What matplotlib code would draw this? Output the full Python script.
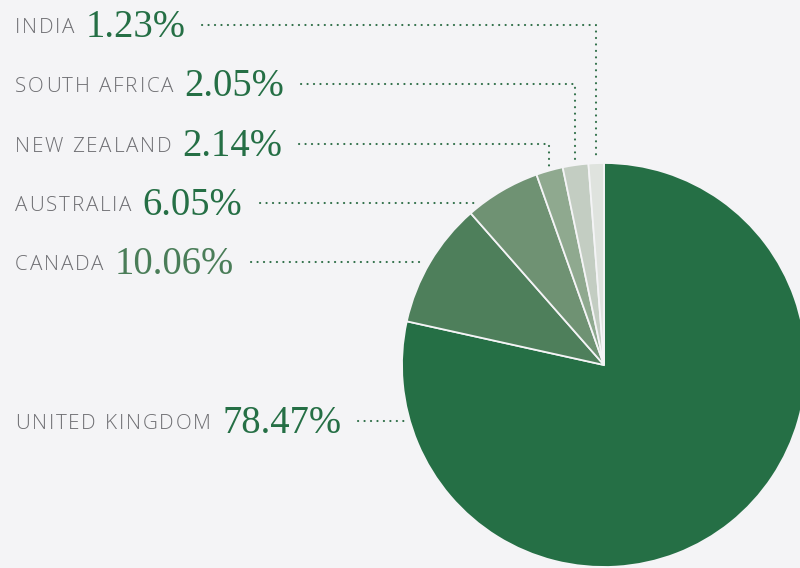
import numpy as np
import matplotlib
matplotlib.use("Agg")
import matplotlib.pyplot as plt
from matplotlib.font_manager import FontProperties
from matplotlib.textpath import TextToPath

countries = ["UNITED KINGDOM", "CANADA", "AUSTRALIA", "NEW ZEALAND", "SOUTH AFRICA", "INDIA"]
shares = [78.47, 10.06, 6.05, 2.14, 2.05, 1.23]
slice_colors = ["#256f45", "#4e7f5b", "#6f9273", "#8fa98f", "#c3cdc2", "#dfe3de"]
pct_colors = ["#256f45", "#4a7d58", "#256f45", "#256f45", "#256f45", "#256f45"]

# layout (pixel rows for labels, top-down)
label_rows = {"INDIA": 25, "SOUTH AFRICA": 84, "NEW ZEALAND": 144,
              "AUSTRALIA": 203, "CANADA": 262, "UNITED KINGDOM": 421}
vertical_leaders = {"INDIA", "SOUTH AFRICA", "NEW ZEALAND"}

W, H = 800, 568
DPI = 100
BG = "#f4f4f6"
GREEN = "#2e6e47"

fig = plt.figure(figsize=(W / DPI, H / DPI), dpi=DPI, facecolor=BG)
ax = fig.add_axes([0, 0, 1, 1])
ax.set_facecolor(BG)

cx, cy_pix, R = 604, 365, 202
cy = H - cy_pix

wedges, _ = ax.pie(shares, colors=slice_colors, startangle=90, counterclock=False,
                   center=(cx, cy), radius=R, frame=True,
                   wedgeprops=dict(edgecolor=BG, linewidth=1.3))
ax.set_xlim(0, W)
ax.set_ylim(0, H)
ax.axis("off")

name_fp = FontProperties(family=["Open Sans", "DejaVu Sans"], weight="light", size=14.9)
pct_fp = FontProperties(family=["Liberation Serif", "DejaVu Serif"], size=27.8)
ttp = TextToPath()
px_per_pt = DPI / 72.0


def text_width_px(s, fp):
    w, h, d = ttp.get_text_width_height_descent(s, fp, ismath=False)
    return w * px_per_pt


def draw_tracked(x, y, s, fp, color, tracking):
    for ch in s:
        ax.text(x, y, ch, fontproperties=fp, color=color, ha="left", va="baseline")
        x += text_width_px(ch, fp) + tracking
    return x - tracking


dot_style = dict(color=GREEN, lw=1.5, linestyle=(0, (0.1, 3.0)),
                 dash_capstyle="round", solid_capstyle="round")

for name, share, pcol, wedge in zip(countries, shares, pct_colors, wedges):
    row = label_rows[name]
    yb = H - (row + 8)
    x_end = draw_tracked(15, yb, name, name_fp, "#6e6e72", 1.8)
    px = x_end + 11
    pct_txt = f"{share:.2f}%"
    ax.text(px, H - (row + 12), pct_txt, fontproperties=pct_fp, color=pcol,
            ha="left", va="baseline")
    p_end = px + text_width_px(pct_txt, pct_fp)
    ly = H - row
    x0 = p_end + 17
    if name in vertical_leaders:
        mid = np.deg2rad((wedge.theta1 + wedge.theta2) / 2)
        vx = cx + R * np.cos(mid)
        vy = cy + R * np.sin(mid) + 4
        ax.plot([x0, vx, vx], [ly, ly, vy], **dot_style)
    else:
        dy = ly - cy
        xe = cx - np.sqrt(R ** 2 - dy ** 2) - 5
        ax.plot([x0, xe], [ly, ly], **dot_style)

fig.savefig("out.png", dpi=DPI, facecolor=BG)
